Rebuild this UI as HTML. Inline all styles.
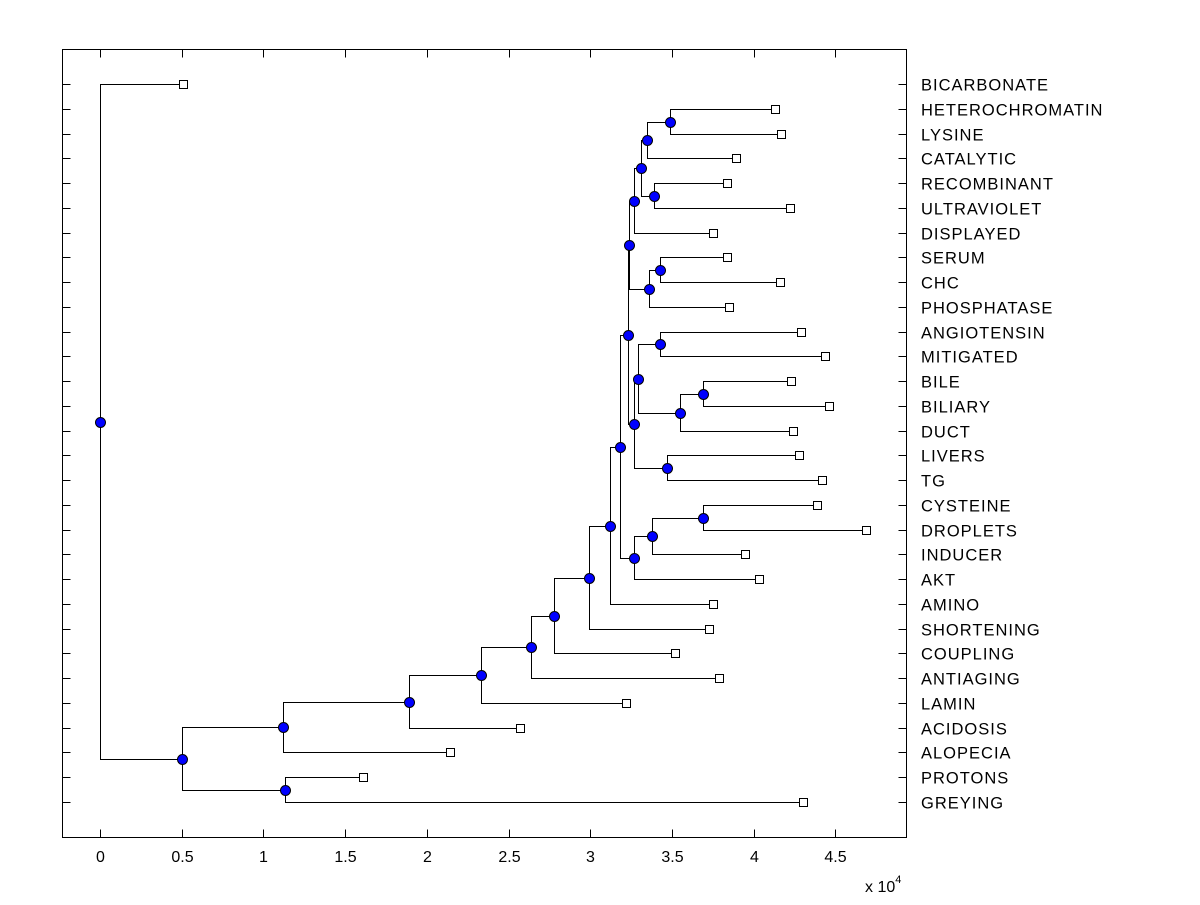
<!DOCTYPE html>
<html><head><meta charset="utf-8"><style>
body{margin:0;background:#fff;}
svg text{font-family:"Liberation Sans",Arial,sans-serif;font-size:16px;fill:#000;}
svg text.leaf{font-size:16.5px;letter-spacing:1px;}
</style></head><body>
<svg id="chart" width="1200" height="900" xmlns="http://www.w3.org/2000/svg">
<rect x="0" y="0" width="1200" height="900" fill="#fff"/>
<g id="g" shape-rendering="crispEdges"></g>
</svg>
<script>
const leaves = ["BICARBONATE","HETEROCHROMATIN","LYSINE","CATALYTIC","RECOMBINANT","ULTRAVIOLET","DISPLAYED","SERUM","CHC","PHOSPHATASE","ANGIOTENSIN","MITIGATED","BILE","BILIARY","DUCT","LIVERS","TG","CYSTEINE","DROPLETS","INDUCER","AKT","AMINO","SHORTENING","COUPLING","ANTIAGING","LAMIN","ACIDOSIS","ALOPECIA","PROTONS","GREYING"];
const leafDist = [0.508,4.13,4.17,3.89,3.84,4.22,3.75,3.84,4.16,3.85,4.29,4.44,4.23,4.46,4.24,4.28,4.42,4.39,4.69,3.95,4.03,3.75,3.73,3.52,3.79,3.22,2.57,2.14,1.61,4.30];
const nodeChildren = [
 ["L1","L2"],["N0","L3"],["L4","L5"],["N1","N2"],["N3","L6"],
 ["L7","L8"],["N5","L9"],["N4","N6"],["L10","L11"],["L12","L13"],
 ["N9","L14"],["L15","L16"],["N8","N10"],["N12","N11"],["N7","N13"],
 ["L17","L18"],["N15","L19"],["N16","L20"],["N14","N17"],["N18","L21"],
 ["N19","L22"],["N20","L23"],["N21","L24"],["N22","L25"],["N23","L26"],
 ["N24","L27"],["L28","L29"],["N25","N26"],["L0","N27"]];
const nodeDist = [3.49,3.35,3.39,3.31,3.27,3.43,3.36,3.24,3.43,3.69,3.55,3.47,3.29,3.27,3.23,3.69,3.38,3.27,3.18,3.12,2.99,2.78,2.64,2.33,1.89,1.12,1.13,0.50,0.0];
const xTicks = [0,0.5,1,1.5,2,2.5,3,3.5,4,4.5];

const L=62.5,R=906.5,T=49.5,B=837.5;
const X=v=>Math.round(100+v*163.4)+0.5;
const Y=i=>Math.round(84+i*(802-84)/29)+0.5;
const g=document.getElementById('g');
const NS='http://www.w3.org/2000/svg';
function mk(tag,attrs){const e=document.createElementNS(NS,tag);for(const k in attrs)e.setAttribute(k,attrs[k]);g.appendChild(e);return e;}

const pos={};
leaves.forEach((n,i)=>{pos['L'+i]={x:X(leafDist[i]),y:Y(i)};});
nodeChildren.forEach((c,i)=>{pos['N'+i]={x:X(nodeDist[i]),y:Math.round((pos[c[0]].y+pos[c[1]].y)/2-0.5)+0.5};});

const box=mk('rect',{x:L,y:T,width:R-L,height:B-T,fill:'none',stroke:'#000','stroke-width':1});


leaves.forEach((n,i)=>{
 const y=Y(i);
 const t1=mk('line',{x1:L,x2:L+8,y1:y,y2:y,stroke:'#000'});
 
 
 const t2=mk('line',{x1:R-8,x2:R,y1:y,y2:y,stroke:'#000'});
 
 
 const tx=mk('text',{x:921,y:y+6,'class':'leaf'});
 tx.textContent=n;
 
 
});
xTicks.forEach(v=>{
 const x=X(v);
 const a=mk('line',{x1:x,x2:x,y1:B,y2:B-8,stroke:'#000'});
 
 
 const b=mk('line',{x1:x,x2:x,y1:T,y2:T+8,stroke:'#000'});
 
 
 const t=mk('text',{x:x,y:862,'text-anchor':'middle','font-size':'16.5'});
 t.textContent=String(v);
 
 
});
const ex=mk('text',{x:865,y:892,'font-size':'15'});
ex.innerHTML='x 10<tspan dy="-9" font-size="11">4</tspan>';



nodeChildren.forEach((c,i)=>{
 const p=pos['N'+i];
 c.forEach(k=>{
  const q=pos[k];
  const br=mk('path',{d:`M${p.x},${p.y}V${q.y}H${q.x}`,fill:'none',stroke:'#000','stroke-width':1});
  
  
 });
});
leaves.forEach((n,i)=>{
 const p=pos['L'+i];
 const s=mk('rect',{x:p.x-4,y:p.y-4,width:8,height:8,fill:'#fff',stroke:'#000'});
 
 
});
nodeChildren.forEach((c,i)=>{
 const p=pos['N'+i];
 const ci=mk('circle',{cx:p.x,cy:p.y,r:5,fill:'#0000ff',stroke:'#000','shape-rendering':'auto'});
 
 
});
</script>
</body></html>
